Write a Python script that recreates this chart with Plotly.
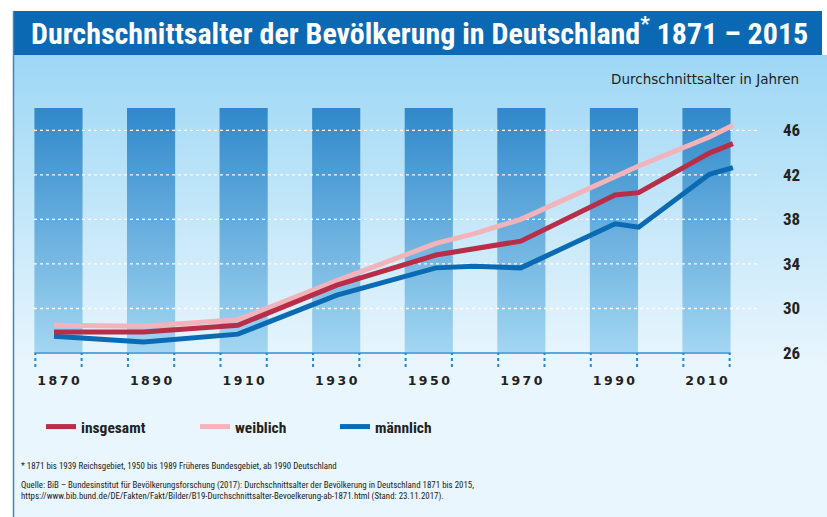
import base64
import plotly.graph_objects as go

# ---------------- data ----------------
years = [1871, 1890, 1910, 1931, 1952, 1960, 1970, 1990, 1995, 2010, 2015]
insgesamt = [27.9, 27.9, 28.5, 32.1, 34.8, 35.35, 36.05, 40.2, 40.4, 43.95, 44.8]
weiblich = [28.5, 28.4, 29.0, 32.5, 35.85, 36.7, 38.0, 41.9, 42.8, 45.4, 46.45]
maennlich = [27.5, 27.0, 27.7, 31.2, 33.65, 33.8, 33.65, 37.6, 37.3, 42.05, 42.65]

decade_labels = [1870, 1890, 1910, 1930, 1950, 1970, 1990, 2010]
y_ticks = [26, 30, 34, 38, 42, 46]

# ---------------- layout geometry ----------------
W, H = 827, 517
L, R, T, B = 34, 757, 108, 367


def px_x(px):
    return (px - L) / (R - L)


def px_y(py):
    return (B - py) / (B - T)


Y_MIN, Y_MAX = 24.75, 48
BASE = 26
HALF_BAR = 5.2
XL_RANGE = [1864.71, 2020.91]   # axis of the decade columns / labels
XD_RANGE = [1866.76, 2020.1]    # axis of the data lines

fig = go.Figure()

# background columns (gradient)
bx, by = [], []
for c in decade_labels:
    bx += [c - HALF_BAR, c + HALF_BAR, c + HALF_BAR, c - HALF_BAR, c - HALF_BAR, None]
    by += [BASE, BASE, Y_MAX, Y_MAX, BASE, None]
fig.add_trace(go.Scatter(
    x=bx, y=by, mode="lines", fill="toself", line=dict(width=0),
    fillgradient=dict(type="vertical", colorscale=[[0, "#a3d6f2"], [1, "#3088ca"]]),
    hoverinfo="skip", showlegend=False))

# dotted white grid lines
gx, gy = [], []
for v in y_ticks[1:]:
    gx += [XL_RANGE[0], XL_RANGE[1], None]
    gy += [v, v, None]
fig.add_trace(go.Scatter(
    x=gx, y=gy, mode="lines",
    line=dict(color="rgba(255,255,255,0.95)", width=1.3, dash="dot"),
    hoverinfo="skip", showlegend=False))

# baseline
fig.add_trace(go.Scatter(
    x=[decade_labels[0] - HALF_BAR, decade_labels[-1] + HALF_BAR], y=[BASE, BASE],
    mode="lines", line=dict(color="#5aa9dc", width=2),
    hoverinfo="skip", showlegend=False))

# dotted tick marks below the columns
tx, ty = [], []
for c in decade_labels:
    for e in (c - 5, c + 5):
        tx += [e, e, None]
        ty += [Y_MIN, BASE, None]
fig.add_trace(go.Scatter(
    x=tx, y=ty, mode="lines",
    line=dict(color="#2a86c9", width=2, dash="dot"),
    hoverinfo="skip", showlegend=False))

# data lines (on the overlaying year axis, drawn above the columns)
fig.add_trace(go.Scatter(x=years, y=weiblich, xaxis="x2", mode="lines", name="weiblich",
                         line=dict(color="#f3b3ba", width=5), legend="legend2"))
fig.add_trace(go.Scatter(x=years, y=maennlich, xaxis="x2", mode="lines", name="männlich",
                         line=dict(color="#0a6ab4", width=5), legend="legend3"))
fig.add_trace(go.Scatter(x=years, y=insgesamt, xaxis="x2", mode="lines", name="insgesamt",
                         line=dict(color="#b82d48", width=5), legend="legend"))

# panel background gradient as svg image
svg = (
    '<svg xmlns="http://www.w3.org/2000/svg" width="814" height="462" '
    'viewBox="0 0 814 462" preserveAspectRatio="none">'
    '<defs><linearGradient id="g" x1="0" y1="0" x2="0" y2="1">'
    '<stop offset="0" stop-color="#9dd7f5"/>'
    '<stop offset="0.68" stop-color="#eaf6fd"/>'
    '<stop offset="1" stop-color="#e9f6fd"/>'
    '</linearGradient></defs>'
    '<rect x="0" y="0" width="814" height="462" fill="url(#g)"/></svg>'
)
src = "data:image/svg+xml;base64," + base64.b64encode(svg.encode()).decode()

narrow = "Liberation Sans Narrow, Arial Narrow, Roboto Condensed, sans-serif"

shapes = [
    # header band
    dict(type="rect", xref="paper", yref="paper", x0=px_x(13), x1=px_x(822),
         y0=px_y(11), y1=px_y(55), fillcolor="#0b69b3", line=dict(width=0), layer="below"),
    # left border
    dict(type="line", xref="paper", yref="paper", x0=px_x(13.5), x1=px_x(13.5),
         y0=px_y(11), y1=px_y(517), line=dict(color="#3a86c6", width=1.5), layer="below"),
]

foot_font = dict(family=narrow, size=8.9, color="#222222")
annotations = [
    dict(text="Durchschnittsalter der Bevölkerung in Deutschland<sup>*</sup> 1871 – 2015",
         xref="paper", yref="paper", x=px_x(29), y=px_y(32), xanchor="left", yanchor="middle",
         showarrow=False, font=dict(family=narrow, size=30, color="white", weight="bold")),
    dict(text="Durchschnittsalter in Jahren", xref="paper", yref="paper",
         x=px_x(801), y=px_y(79), xanchor="right", yanchor="middle", showarrow=False,
         font=dict(family="DejaVu Sans", size=13.5, color="#222222")),
    dict(text="* 1871 bis 1939 Reichsgebiet, 1950 bis 1989 Früheres Bundesgebiet, ab 1990 Deutschland",
         xref="paper", yref="paper", x=px_x(19), y=px_y(466), xanchor="left", yanchor="middle",
         showarrow=False, font=foot_font),
    dict(text="Quelle: BiB – Bundesinstitut für Bevölkerungsforschung (2017): Durchschnittsalter der Bevölkerung in Deutschland 1871 bis 2015,",
         xref="paper", yref="paper", x=px_x(19), y=px_y(485), xanchor="left", yanchor="middle",
         showarrow=False, font=foot_font),
    dict(text="https://www.bib.bund.de/DE/Fakten/Fakt/Bilder/B19-Durchschnittsalter-Bevoelkerung-ab-1871.html (Stand: 23.11.2017).",
         xref="paper", yref="paper", x=px_x(19), y=px_y(497), xanchor="left", yanchor="middle",
         showarrow=False, font=foot_font),
]

tick_text = ["\u2009".join(str(v)) for v in decade_labels]

legend_common = dict(orientation="h", y=px_y(427), xanchor="left", yanchor="middle",
                     bgcolor="rgba(0,0,0,0)", itemwidth=30,
                     font=dict(family=narrow, size=15.5, color="#222222", weight="bold"))

fig.update_layout(
    width=W, height=H,
    margin=dict(l=L, r=W - R, t=T, b=H - B, pad=0, autoexpand=False),
    paper_bgcolor="white", plot_bgcolor="rgba(0,0,0,0)",
    xaxis=dict(range=XL_RANGE, tickmode="array", tickvals=decade_labels, ticktext=tick_text,
               showgrid=False, zeroline=False, showline=False, ticks="", ticklabelstandoff=4,
               fixedrange=True,
               tickfont=dict(family="DejaVu Sans", size=12.5, color="#222222", weight="bold")),
    xaxis2=dict(range=XD_RANGE, overlaying="x", visible=False, fixedrange=True),
    yaxis=dict(range=[Y_MIN, Y_MAX], side="right", tickmode="array", tickvals=y_ticks,
               showgrid=False, zeroline=False, showline=False, ticks="", ticklabelstandoff=25,
               fixedrange=True,
               tickfont=dict(family=narrow, size=17, color="#222222", weight="bold")),
    legend=dict(x=px_x(41), **legend_common),
    legend2=dict(x=px_x(195), **legend_common),
    legend3=dict(x=px_x(335), **legend_common),
    images=[dict(source=src, xref="paper", yref="paper", x=px_x(13), y=px_y(55),
                 sizex=(W - 13) / (R - L), sizey=(H - 55) / (B - T), xanchor="left",
                 yanchor="top", sizing="stretch", layer="below")],
    shapes=shapes,
    annotations=annotations,
    showlegend=True,
)

fig.write_html("out.html", config={"displayModeBar": False},
               post_script="document.body.style.margin='0px';")
